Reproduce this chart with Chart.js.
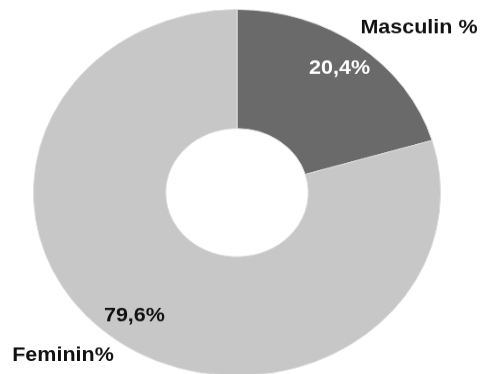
<!DOCTYPE html>
<html>
<head>
<meta charset="utf-8">
<script src="https://cdn.jsdelivr.net/npm/chart.js@4/dist/chart.umd.min.js"></script>
<style>
  html, body { margin: 0; padding: 0; background: #fff; }
  #wrap { width: 480px; height: 374px; overflow: hidden; position: relative; }
  #c { display: block; width: 480px !important; height: 396px !important; }
</style>
</head>
<body>
<div id="wrap"><canvas id="c" width="480" height="440"></canvas></div>
<script>
const categories = ['Masculin %', 'Feminin%'];
const shares = [20.4, 79.6];
const sliceColors = ['#6a6a6a', '#c7c7c7'];
const valueColors = ['#ffffff', '#111111'];

const FONT = 'bold 21.5px "Liberation Sans", Arial, sans-serif';

// Percent labels inside each slice plus the category names beside the ring
const sliceLabels = {
  id: 'sliceLabels',
  afterDatasetsDraw(chart) {
    const ctx = chart.ctx;
    const arcs = chart.getDatasetMeta(0).data;
    ctx.save();
    ctx.font = FONT;
    ctx.textAlign = 'center';
    ctx.textBaseline = 'middle';
    arcs.forEach((arc, i) => {
      const p = arc.getProps(['x', 'y', 'startAngle', 'endAngle', 'outerRadius']);
      const mid = (p.startAngle + p.endAngle) / 2;
      const r = p.outerRadius * 0.843;
      ctx.fillStyle = valueColors[i];
      ctx.fillText(shares[i].toFixed(1).replace('.', ',') + '%',
        p.x + Math.cos(mid) * r, p.y + Math.sin(mid) * r);
    });
    const c = arcs[0].getProps(['x', 'y']);
    ctx.fillStyle = '#111111';
    ctx.fillText(categories[0], c.x + 182, c.y - 183);
    ctx.fillText(categories[1], c.x - 174, c.y + 181);
    ctx.restore();
  }
};

new Chart(document.getElementById('c'), {
  type: 'doughnut',
  data: {
    labels: categories,
    datasets: [{
      data: shares,
      backgroundColor: sliceColors,
      borderColor: '#dcdcdc',
      borderWidth: 1,
      hoverOffset: 0,
      offset: 0
    }]
  },
  options: {
    responsive: false,
    animation: false,
    cutout: '35%',
    layout: { padding: { left: 33, right: 39, top: 10, bottom: 22 } },
    plugins: {
      legend: { display: false },
      tooltip: { enabled: false }
    }
  },
  plugins: [sliceLabels]
});
</script>
</body>
</html>
